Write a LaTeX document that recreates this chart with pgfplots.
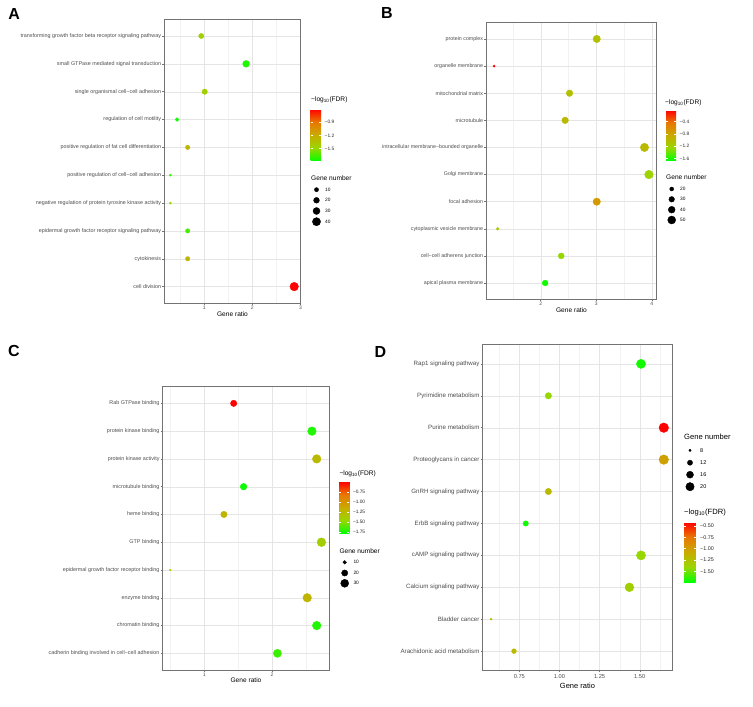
\documentclass[border=0pt]{standalone}
\usepackage{fontspec}
\setmainfont{Liberation Sans}
\usepackage{pgfplots}
\pgfplotsset{compat=1.18}
\usetikzlibrary{calc}
\newcommand\fs[1]{\fontsize{#1}{#1}\selectfont}
\pgfplotsset{
  colormap={gg}{rgb255=(0,255,0) rgb255=(152,215,0) rgb255=(201,171,0) rgb255=(232,119,0) rgb255=(255,0,0)},
  go/.style={
    scale only axis, y dir=reverse, ymin=0.4, ymax=10.6, ytick={1,...,10},
    axis line style={draw=black!55, line width=0.5pt},
    tick style={draw=black!55, line width=0.4pt},
    major tick length=2pt, minor tick length=0pt, tick align=outside,
    xtick pos=bottom, ytick pos=left,
    xmajorgrids, ymajorgrids, xminorgrids,
    major grid style={draw=black!10, line width=0.35pt},
    minor grid style={draw=black!5, line width=0.25pt},
    /pgf/number format/assume math mode=true,
    yticklabel style={text=black!70, inner sep=1pt},
    xticklabel style={text=black!70, inner sep=1pt},
    xlabel={Gene ratio}, xlabel style={inner sep=0pt},
    colormap name=gg, colorbar, colorbar shift/.style={},
  },
  cbar/.style={anchor=north west, axis line style={draw=none},
    ytick pos=both, yticklabel pos=right, tick align=inside, major tick length=2pt,
    ytick style={draw=white, line width=0.5pt},
    yticklabel style={inner sep=0pt, xshift=3.5pt, text=black!85},
    /pgf/number format/assume math mode=true},
  bub/.style={scatter, only marks, mark=*, scatter src=explicit,
    scatter/use mapped color={draw=mapped color, fill=mapped color},
    visualization depends on={\thisrow{r}\as\rad},
    scatter/@pre marker code/.append style={/tikz/mark size=\rad}},
}
\begin{document}
\begin{tikzpicture}
\useasboundingbox (0pt,0pt) rectangle (753pt,707pt);
% ---------------- A
\begin{axis}[go, at={(164.3pt,687.7pt)}, anchor=north west, width=136.4pt, height=284pt,
  xmin=0.17, xmax=3.005, xtick={1,2,3}, minor xtick={0.5,1.5,2.5},
  yticklabels={transforming growth factor beta receptor signaling pathway, small GTPase mediated signal transduction, single organismal cell−cell adhesion, regulation of cell motility, positive regulation of fat cell differentiation, positive regulation of cell−cell adhesion, negative regulation of protein tyrosine kinase activity, epidermal growth factor receptor signaling pathway, cytokinesis, cell division},
  yticklabel style={font=\fs{5.4}}, xticklabel style={font=\fs{5}}, xlabel style={font=\fs{6.6}},
  point meta min=-1.777, point meta max=-0.607,
  colorbar style={cbar, at={($(parent axis.north east)+(9.8pt,-89.7pt)$)}, width=10.5pt, height=52pt,
    ytick={-0.9,-1.2,-1.5}, yticklabels={−0.9,−1.2,−1.5}, yticklabel style={font=\fs{4.8}}},
]
\addplot[bub] table[x=x, y=y, meta=c] {
x y r c
0.938 1 2.6 -1.43
1.87 2 3.4 -1.72
1.01 3 2.7 -1.43
0.435 4 1.9 -1.75
0.656 5 2.2 -1.25
0.296 6 1.1 -1.66
0.296 7 1.1 -1.48
0.656 8 2.2 -1.64
0.656 9 2.2 -1.25
2.87 10 4.3 -0.61
};
\end{axis}
% ---------------- B
\begin{axis}[go, at={(486.3pt,684.3pt)}, anchor=north west, width=170.4pt, height=276.6pt,
  xmin=1.02, xmax=4.09, xtick={2,3,4}, minor xtick={1.5,2.5,3.5},
  yticklabels={protein complex, organelle membrane, mitochondrial matrix, microtubule, intracellular membrane−bounded organelle, Golgi membrane, focal adhesion, cytoplasmic vesicle membrane, cell−cell adherens junction, apical plasma membrane},
  yticklabel style={font=\fs{5.3}}, xticklabel style={font=\fs{5}}, xlabel style={font=\fs{6.6}},
  point meta min=-1.67, point meta max=-0.02,
  colorbar style={cbar, at={($(parent axis.north east)+(9.3pt,-87.3pt)$)}, width=10pt, height=50.7pt,
    ytick={-0.4,-0.8,-1.2,-1.6}, yticklabels={−0.4,−0.8,−1.2,−1.6}, yticklabel style={font=\fs{4.8}}},
]
\addplot[bub] table[x=x, y=y, meta=c] {
x y r c
3.01 1 3.7 -1.04
1.16 2 1.1 -0.02
2.52 3 3.3 -1.04
2.44 4 3.3 -0.98
3.87 5 4.2 -0.98
3.95 6 4.3 -1.21
3.01 7 3.7 -0.71
1.225 8 1.4 -1.13
2.37 9 3.0 -1.26
2.08 10 2.9 -1.62
};
\end{axis}
% ---------------- C
\begin{axis}[go, at={(162.7pt,320.3pt)}, anchor=north west, width=166.6pt, height=283.3pt,
  xmin=0.386, xmax=2.846, xtick={1,2}, minor xtick={0.5,1.5,2.5},
  yticklabels={Rab GTPase binding, protein kinase binding, protein kinase activity, microtubule binding, heme binding, GTP binding, epidermal growth factor receptor binding, enzyme binding, chromatin binding, cadherin binding involved in cell−cell adhesion},
  yticklabel style={font=\fs{5.4}}, xticklabel style={font=\fs{5}}, xlabel style={font=\fs{6.6}},
  point meta min=-1.775, point meta max=-0.495,
  colorbar style={cbar, at={($(parent axis.north east)+(10pt,-95pt)$)}, width=10pt, height=51.6pt,
    ytick={-0.75,-1,-1.25,-1.5,-1.75}, yticklabels={−0.75,−1.00,−1.25,−1.50,−1.75}, yticklabel style={font=\fs{4.8}}},
]
\addplot[bub] table[x=x, y=y, meta=c] {
x y r c
1.434 1 3.2 -0.5
2.59 2 4.3 -1.71
2.66 3 4.3 -1.24
1.58 4 3.3 -1.75
1.29 5 3.2 -1.2
2.73 6 4.4 -1.39
0.498 7 0.9 -1.33
2.52 8 4.3 -1.2
2.66 9 4.3 -1.71
2.08 10 4.1 -1.65
};
\end{axis}
% ---------------- D
\begin{axis}[go, at={(482.7pt,362.3pt)}, anchor=north west, width=189.6pt, height=325.6pt,
  xmin=0.522, xmax=1.703, xtick={0.75,1,1.25,1.5}, xticklabels={0.75,1.00,1.25,1.50},
  minor xtick={0.625,0.875,1.125,1.375,1.625},
  yticklabels={Rap1 signaling pathway, Pyrimidine metabolism, Purine metabolism, Proteoglycans in cancer, GnRH signaling pathway, ErbB signaling pathway, cAMP signaling pathway, Calcium signaling pathway, Bladder cancer, Arachidonic acid metabolism},
  yticklabel style={font=\fs{6.2}}, xticklabel style={font=\fs{5.7}, yshift=-1pt},
  xlabel style={font=\fs{7.5}, yshift=-3pt},
  point meta min=-1.74, point meta max=-0.41,
  colorbar style={cbar, at={($(parent axis.north east)+(11.7pt,-177.3pt)$)}, width=11.7pt, height=60.3pt,
    ytick={-0.5,-0.75,-1,-1.25,-1.5}, yticklabels={−0.50,−0.75,−1.00,−1.25,−1.50}, yticklabel style={font=\fs{5.4}, xshift=0.8pt}},
]
\addplot[bub] table[x=x, y=y, meta=c] {
x y r c
1.508 1 4.6 -1.70
0.931 2 3.2 -1.41
1.65 3 4.8 -0.41
1.65 4 4.8 -1.01
0.931 5 3.2 -1.18
0.79 6 2.7 -1.71
1.508 7 4.6 -1.41
1.436 8 4.4 -1.34
0.574 9 1.0 -1.21
0.717 10 2.4 -1.18
};
\end{axis}
% ---------------- size legends (overlay axis in reference pixel coordinates)
\begin{axis}[at={(0pt,0pt)}, anchor=south west, scale only axis, width=753pt, height=707pt,
  xmin=0, xmax=753, ymin=0, ymax=707, y dir=reverse, hide axis, clip=false]
\addplot[scatter, only marks, mark=*, scatter src=explicit,
  scatter/use mapped color={draw=black, fill=black},
  visualization depends on={\thisrow{r}\as\rad},
  scatter/@pre marker code/.append style={/tikz/mark size=\rad}] table[x=x, y=y, meta=r] {
x y r
316.5 189.7 2.1
316.5 200.3 2.9
316.5 211.0 3.5
316.5 221.7 4.1
671.7 189.0 2.0
671.7 199.3 2.8
671.7 209.7 3.4
671.7 220.0 4.0
344.7 562.3 1.8
344.7 573.0 3.1
344.7 583.3 4.0
690.0 450.3 1.2
690.0 462.7 2.6
690.0 474.7 3.5
690.0 486.7 4.2
};
\end{axis}
% ---------------- texts
\begin{scope}[every node/.style={inner sep=0pt}]
\node[font=\fs{16}\bfseries] at (14.2pt,692.8pt) {A};
\node[font=\fs{16}\bfseries] at (387pt,693.5pt) {B};
\node[font=\fs{16}\bfseries] at (13.8pt,356pt) {C};
\node[font=\fs{16}\bfseries] at (380.5pt,355pt) {D};
% A legends
\node[anchor=west, font=\fs{6.6}] at (311pt,607pt) {−log\textsubscript{10}(FDR)};
\node[anchor=west, font=\fs{6.6}] at (311pt,529pt) {Gene number};
\node[anchor=west, font=\fs{4.8}] at (325pt,517.3pt) {10};
\node[anchor=west, font=\fs{4.8}] at (325pt,506.7pt) {20};
\node[anchor=west, font=\fs{4.8}] at (325pt,496pt) {30};
\node[anchor=west, font=\fs{4.8}] at (325pt,485.3pt) {40};
% B legends
\node[anchor=west, font=\fs{6.6}] at (665pt,604.3pt) {−log\textsubscript{10}(FDR)};
\node[anchor=west, font=\fs{6.6}] at (666pt,529.7pt) {Gene number};
\node[anchor=west, font=\fs{4.8}] at (680pt,518pt) {20};
\node[anchor=west, font=\fs{4.8}] at (680pt,507.7pt) {30};
\node[anchor=west, font=\fs{4.8}] at (680pt,497.3pt) {40};
\node[anchor=west, font=\fs{4.8}] at (680pt,487pt) {50};
% C legends
\node[anchor=west, font=\fs{6.6}] at (339.3pt,233.7pt) {−log\textsubscript{10}(FDR)};
\node[anchor=west, font=\fs{6.6}] at (339.3pt,156.3pt) {Gene number};
\node[anchor=west, font=\fs{4.8}] at (353.3pt,144.7pt) {10};
\node[anchor=west, font=\fs{4.8}] at (353.3pt,134pt) {20};
\node[anchor=west, font=\fs{4.8}] at (353.3pt,123.7pt) {30};
% D legends
\node[anchor=west, font=\fs{7.6}] at (684pt,270pt) {Gene number};
\node[anchor=west, font=\fs{5.5}] at (700pt,256.7pt) {8};
\node[anchor=west, font=\fs{5.5}] at (700pt,244.3pt) {12};
\node[anchor=west, font=\fs{5.5}] at (700pt,232.3pt) {16};
\node[anchor=west, font=\fs{5.5}] at (700pt,220.3pt) {20};
\node[anchor=west, font=\fs{7.6}] at (684pt,194.3pt) {−log\textsubscript{10}(FDR)};
\end{scope}
\end{tikzpicture}
\end{document}
